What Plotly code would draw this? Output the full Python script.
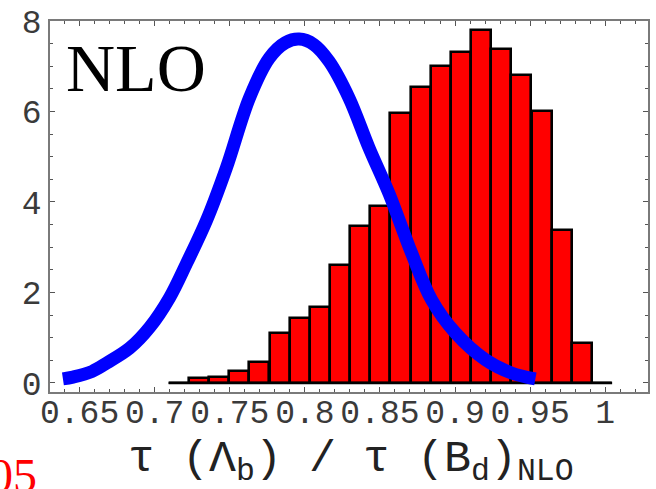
import plotly.graph_objects as go

# ---- data ----
bin_centers = [0.7160, 0.7295, 0.7429, 0.7563, 0.7697, 0.7832, 0.7966, 0.8100,
               0.8234, 0.8368, 0.8503, 0.8637, 0.8771, 0.8905, 0.9040, 0.9174,
               0.9308, 0.9442, 0.9577, 0.9711, 0.9845, 0.9979]
bin_width = 0.013425
bin_heights = [0.0, 0.11, 0.13, 0.26, 0.46, 1.10, 1.43, 1.67, 2.60, 3.46, 3.92,
               5.97, 6.54, 7.00, 7.32, 7.80, 7.39, 6.81, 6.00, 3.39, 0.88, 0.0]

curve_x = [0.6389, 0.6456, 0.6581, 0.6681, 0.6834, 0.6967, 0.7100, 0.7212, 0.7345,
           0.7478, 0.7631, 0.7763, 0.7870, 0.7962, 0.8060, 0.8161, 0.8294, 0.8427,
           0.8560, 0.8712, 0.8845, 0.9004, 0.9204, 0.9376, 0.9535]
curve_y = [0.09, 0.13, 0.25, 0.44, 0.77, 1.23, 1.89, 2.64, 3.59,
           4.76, 6.30, 7.18, 7.52, 7.60, 7.48, 7.11, 6.30, 5.20,
           4.19, 2.86, 1.83, 1.10, 0.51, 0.22, 0.09]

x_tickvals = [0.65, 0.70, 0.75, 0.80, 0.85, 0.90, 0.95, 1.00]
x_ticktext = ["0.65", "0.7", "0.75", "0.8", "0.85", "0.9", "0.95", "1"]
y_tickvals = [0, 2, 4, 6, 8]
y_ticktext = ["0", "2", "4", "6", "8"]

x_range = [0.6303, 1.0285]
y_range = [-0.2, 8.0]

fig = go.Figure()

fig.add_trace(go.Bar(
    x=bin_centers, y=bin_heights, width=bin_width,
    marker=dict(color="#ff0000", line=dict(color="black", width=2.6)),
    showlegend=False, hoverinfo="skip"))

# baseline of the histogram (bottom edges of all bins)
fig.add_trace(go.Scatter(
    x=[bin_centers[0] - bin_width / 2, bin_centers[-1] + bin_width / 2],
    y=[0, 0], mode="lines", line=dict(color="black", width=2.6),
    showlegend=False, hoverinfo="skip"))

fig.add_trace(go.Scatter(
    x=curve_x, y=curve_y, mode="lines", line_shape="spline",
    line=dict(color="#0000ff", width=13),
    showlegend=False, hoverinfo="skip"))

mono = "Liberation Mono"
axis_common = dict(
    showgrid=False, zeroline=False, showline=True, linecolor="#7a7a7a", linewidth=1.5,
    mirror="allticks", ticks="inside", ticklen=5, tickwidth=1, tickcolor="#555555",
    tickfont=dict(family=mono, size=33, color="#3a3a3a"),
)

fig.update_xaxes(range=x_range, tickvals=x_tickvals, ticktext=x_ticktext, tickangle=0,
                 ticklabelstandoff=-10,
                 minor=dict(dtick=0.01, tick0=0.65, ticks="inside", ticklen=3,
                            tickcolor="#555555"),
                 **axis_common)
fig.update_yaxes(range=y_range, tickvals=y_tickvals, ticktext=y_ticktext,
                 minor=dict(dtick=0.5, tick0=0, ticks="inside", ticklen=3,
                            tickcolor="#555555"),
                 **axis_common)

fig.add_annotation(text="NLO", xref="paper", yref="paper", x=0.024, y=0.872,
                   xanchor="left", yanchor="middle", showarrow=False,
                   font=dict(family="Liberation Serif", size=68, color="black"))

fig.add_annotation(text="τ (Λ<sub>b</sub>) / τ (B<sub>d</sub>)<sub>NLO</sub>",
                   xref="paper", yref="paper", x=0.503, y=-0.188,
                   xanchor="center", yanchor="middle", showarrow=False,
                   font=dict(family=mono, size=45, color="#222222"))

fig.add_annotation(text="05", xref="paper", yref="paper", x=-0.019, y=-0.148,
                   xanchor="right", yanchor="top", showarrow=False,
                   font=dict(family="Liberation Serif", size=48, color="#ff0000"))

fig.update_layout(
    width=656, height=489,
    margin=dict(l=50, r=6, t=20, b=97),
    paper_bgcolor="white", plot_bgcolor="white",
    bargap=0,
)

fig.write_html("out.html")
